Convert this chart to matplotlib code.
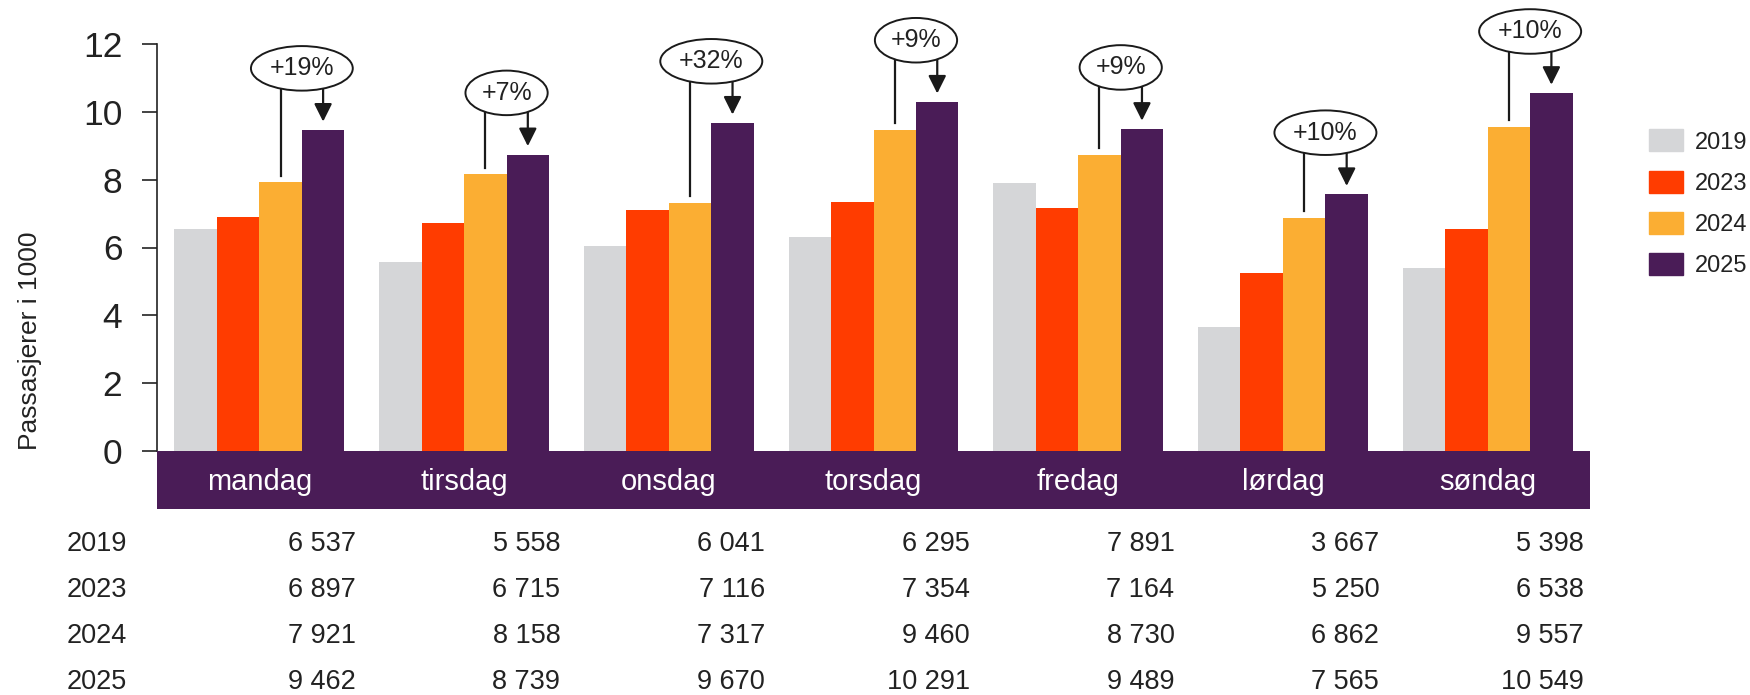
import matplotlib
matplotlib.use("Agg")
import matplotlib.pyplot as plt
from matplotlib.patches import Patch
from matplotlib.transforms import blended_transform_factory

plt.rcParams["font.family"] = ["Liberation Sans", "DejaVu Sans"]

days = ["mandag", "tirsdag", "onsdag", "torsdag", "fredag", "lørdag", "søndag"]
years = ["2019", "2023", "2024", "2025"]
v2019 = [6537, 5558, 6041, 6295, 7891, 3667, 5398]
v2023 = [6897, 6715, 7116, 7354, 7164, 5250, 6538]
v2024 = [7921, 8158, 7317, 9460, 8730, 6862, 9557]
v2025 = [9462, 8739, 9670, 10291, 9489, 7565, 10549]
series = [v2019, v2023, v2024, v2025]
colors = ["#D5D6D8", "#FF3C00", "#FBAE33", "#4A1C57"]
band_color = "#4A1C57"
ink = "#222222"

W, H = 1750, 695
fig = plt.figure(figsize=(W / 100, H / 100), dpi=100)
ax = fig.add_axes([157 / W, 1 - 451 / H, (1590 - 157) / W, (451 - 44) / H])

x = list(range(len(days)))
w = 0.2076
for k, vals in enumerate(series):
    ax.bar([i + (k - 1.5) * w for i in x], [v / 1000 for v in vals], width=w,
           color=colors[k], zorder=2)

ax.set_xlim(-0.5, len(days) - 0.5)
ax.set_ylim(0, 12)
ax.set_yticks(range(0, 13, 2))
ax.set_xticks([])
ax.tick_params(axis="y", labelsize=25.5, length=11, width=1.2, pad=14, colors=ink)
for s in ["top", "right", "bottom"]:
    ax.spines[s].set_visible(False)
ax.spines["left"].set_linewidth(1.2)
ax.spines["left"].set_color(ink)

fig.text(30 / W, 1 - 341 / H, "Passasjerer i 1000", rotation=90, ha="center",
         va="center", fontsize=19, color=ink)

# change callouts 2024 -> 2025
for i in x:
    a, b = v2024[i] / 1000, v2025[i] / 1000
    yc = b + 1.82
    pct = round((v2025[i] / v2024[i] - 1) * 100)
    ax.plot([i + 0.5 * w] * 2, [a + 0.2, yc], color="#1a1a1a", lw=1.6,
            clip_on=False, zorder=3)
    ax.annotate("", xy=(i + 1.5 * w, b + 0.25), xytext=(i + 1.5 * w, yc),
                arrowprops=dict(arrowstyle="-|>", color="#1a1a1a", lw=1.6,
                                mutation_scale=27, shrinkA=0, shrinkB=0),
                annotation_clip=False, zorder=3)
    ax.text(i + w, yc, f"+{pct}%", ha="center", va="center", fontsize=18,
            color=ink, zorder=5, clip_on=False,
            bbox=dict(boxstyle="ellipse,pad=0.15", fc="white", ec="#1a1a1a", lw=1.4))

# day band
band = fig.add_axes([157 / W, 1 - 509 / H, (1590 - 157) / W, (509 - 451) / H])
band.set_facecolor(band_color)
band.set_xlim(ax.get_xlim())
band.set_ylim(0, 1)
band.set_xticks([])
band.set_yticks([])
for s in band.spines.values():
    s.set_visible(False)
for i, d in enumerate(days):
    band.text(i, 0.47, d, ha="center", va="center", color="white", fontsize=21)

# value table (baselines)
tr = blended_transform_factory(ax.transData, fig.transFigure)
row_base = [551, 597, 643, 689]
for k, vals in enumerate(series):
    yy = 1 - row_base[k] / H
    fig.text(67 / W, yy, years[k], ha="left", va="baseline", fontsize=19.5, color=ink)
    for i, v in enumerate(vals):
        ax.text(i + 0.47, yy, f"{v:,}".replace(",", " "), transform=tr,
                ha="right", va="baseline", fontsize=19.5, color=ink)

handles = [Patch(color=c) for c in colors]
fig.legend(handles, years, loc="upper left", bbox_to_anchor=(1640 / W, 1 - 120 / H),
           frameon=False, fontsize=17, handlelength=1.44, handleheight=1.06,
           handletextpad=0.47, labelspacing=0.72, borderaxespad=0, labelcolor=ink)

fig.savefig("out.png", dpi=100)
